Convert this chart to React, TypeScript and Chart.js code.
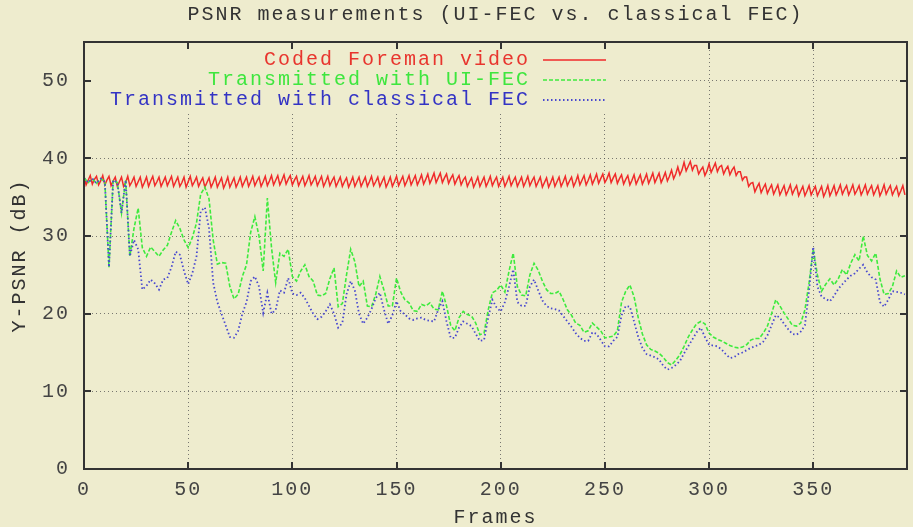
import React, { useEffect, useRef } from "react";
import { Chart, registerables } from "chart.js";

Chart.register(...registerables);

const TITLE = "PSNR measurements (UI-FEC vs. classical FEC)";
const X_LABEL = "Frames";
const Y_LABEL = "Y-PSNR (dB)";
const X_TICKS = [0, 50, 100, 150, 200, 250, 300, 350];
const Y_TICKS = [0, 10, 20, 30, 40, 50];
const X_MAX = 395;
const Y_MAX = 55;
const SERIES_NAMES = ["Coded Foreman video", "Transmitted with UI-FEC", "Transmitted with classical FEC"];
const LOSS_FRAME_STEP = 2; // transmitted series are read every 2nd frame

// Coded Foreman video, one value per frame (0..394)
const codedPsnr = [
  37.7, 36.6, 37.2, 37.8, 36.7, 37.3, 37.7, 36.6, 37.1, 37.8, 36.6, 37.2, 37.7, 36.5, 37.1,
  37.6, 36.4, 37.0, 37.6, 36.4, 36.9, 37.7, 36.5, 37.0, 37.6, 36.4, 37.0, 37.6, 36.3, 36.9,
  37.6, 36.4, 37.1, 37.7, 36.5, 37.0, 37.6, 36.4, 37.0, 37.6, 36.5, 37.1, 37.7, 36.4, 37.0,
  37.6, 36.4, 36.9, 37.6, 36.3, 37.0, 37.7, 36.5, 37.0, 37.6, 36.4, 37.0, 37.5, 36.3, 36.9,
  37.5, 36.3, 36.9, 37.6, 36.3, 36.9, 37.5, 36.2, 36.8, 37.6, 36.3, 36.9, 37.5, 36.3, 36.9,
  37.6, 36.4, 37.0, 37.6, 36.4, 37.0, 37.7, 36.5, 37.1, 37.6, 36.4, 37.0, 37.7, 36.5, 37.1,
  37.8, 36.6, 37.2, 37.8, 36.6, 37.2, 37.9, 36.7, 37.3, 37.8, 36.6, 37.2, 37.7, 36.5, 37.1,
  37.7, 36.5, 37.1, 37.8, 36.6, 37.1, 37.7, 36.5, 37.1, 37.7, 36.4, 37.0, 37.7, 36.5, 37.1,
  37.6, 36.4, 37.0, 37.6, 36.4, 37.0, 37.5, 36.3, 36.9, 37.6, 36.4, 37.0, 37.6, 36.4, 37.0,
  37.6, 36.4, 37.0, 37.7, 36.5, 37.0, 37.6, 36.4, 37.0, 37.6, 36.3, 36.9, 37.6, 36.4, 37.0,
  37.7, 36.5, 37.1, 37.7, 36.5, 37.1, 37.8, 36.6, 37.2, 37.8, 36.6, 37.2, 37.9, 36.7, 37.3,
  38.0, 36.8, 37.4, 38.1, 36.9, 37.5, 38.1, 36.9, 37.5, 38.0, 36.8, 37.4, 37.9, 36.7, 37.3,
  37.8, 36.6, 37.2, 37.6, 36.4, 37.0, 37.5, 36.3, 36.9, 37.6, 36.4, 37.0, 37.6, 36.4, 37.0,
  37.7, 36.5, 37.1, 37.6, 36.4, 37.0, 37.6, 36.4, 37.0, 37.7, 36.5, 37.1, 37.6, 36.4, 37.0,
  37.6, 36.4, 37.0, 37.7, 36.5, 37.1, 37.6, 36.4, 37.0, 37.6, 36.3, 36.9, 37.5, 36.3, 36.9,
  37.6, 36.4, 37.0, 37.6, 36.4, 37.0, 37.7, 36.5, 37.1, 37.6, 36.4, 37.0, 37.8, 36.6, 37.2,
  37.8, 36.6, 37.2, 37.9, 36.7, 37.3, 38.0, 36.8, 37.4, 38.0, 36.9, 37.4, 38.1, 36.9, 37.5,
  38.0, 36.8, 37.4, 37.9, 36.7, 37.3, 37.8, 36.6, 37.2, 37.9, 36.7, 37.3, 37.9, 36.7, 37.3,
  38.0, 36.8, 37.4, 38.1, 36.9, 37.5, 38.1, 36.9, 37.5, 38.2, 37.1, 37.7, 38.5, 37.4, 38.0,
  38.9, 37.9, 38.5, 39.5, 38.4, 39.0, 39.6, 38.5, 39.1, 39.1, 38.0, 38.5, 38.9, 37.8, 38.4,
  39.3, 38.2, 38.8, 39.4, 38.3, 38.9, 39.1, 38.0, 38.6, 39.0, 37.9, 38.5, 38.9, 37.8, 38.3,
  38.3, 37.2, 37.6, 37.6, 36.4, 36.8, 36.9, 35.7, 36.3, 36.8, 35.6, 36.2, 36.7, 35.5, 36.1,
  36.6, 35.4, 36.0, 36.6, 35.3, 35.9, 36.5, 35.3, 35.9, 36.6, 35.4, 36.0, 36.5, 35.2, 35.8,
  36.4, 35.2, 35.8, 36.5, 35.3, 35.9, 36.4, 35.2, 35.8, 36.4, 35.1, 35.7, 36.5, 35.2, 35.8,
  36.5, 35.3, 35.9, 36.6, 35.4, 36.0, 36.5, 35.3, 35.9, 36.6, 35.4, 35.9, 36.5, 35.3, 35.9,
  36.6, 35.4, 36.0, 36.5, 35.3, 35.9, 36.5, 35.2, 35.8, 36.6, 35.4, 36.0, 36.5, 35.3, 35.9,
  36.4, 35.2, 35.8, 36.5, 35.3,
];

// Transmitted with UI-FEC, frames 0, 2, 4, ... 394
const uiFecPsnr = [
  37.5, 36.9, 37.4, 36.8, 37.4, 37.0, 26.0, 37.2, 36.9, 33.0,
  37.2, 27.4, 31.0, 33.6, 28.5, 27.4, 28.6, 28.0, 27.4, 28.2,
  28.8, 30.5, 32.0, 31.0, 29.5, 28.5, 29.8, 31.7, 35.4, 36.3,
  34.8, 29.5, 26.4, 26.6, 26.5, 23.5, 21.9, 22.5, 24.8, 26.3,
  30.5, 32.5, 30.0, 25.5, 34.9, 28.5, 24.0, 27.8, 27.4, 28.3,
  24.8, 24.2, 25.5, 26.3, 24.8, 24.2, 22.4, 22.3, 22.6, 24.5,
  25.9, 20.9, 21.3, 25.0, 28.3, 26.7, 23.5, 24.2, 21.0, 20.9,
  22.5, 24.8, 23.0, 21.0, 21.0, 24.6, 22.8, 21.8, 21.4, 20.4,
  20.3, 21.2, 21.0, 21.4, 20.6, 20.5, 22.9, 21.0, 18.5, 17.8,
  19.5, 20.3, 19.9, 19.7, 18.8, 17.3, 17.5, 20.5, 22.7, 23.0,
  23.7, 22.8, 25.5, 27.8, 23.5, 22.4, 22.3, 25.0, 26.5, 25.6,
  24.2, 23.1, 22.6, 22.6, 22.9, 21.8, 20.5, 19.8, 18.8, 18.5,
  17.6, 17.8, 18.8, 18.3, 17.8, 16.9, 17.0, 17.1, 17.8, 21.5,
  22.9, 23.7, 22.2, 19.5, 17.4, 16.0, 15.4, 15.2, 14.9, 14.4,
  13.7, 13.4, 14.0, 14.7, 15.8, 17.0, 17.9, 18.7, 19.0, 18.7,
  17.5, 17.0, 16.7, 16.5, 16.2, 15.9, 15.7, 15.6, 15.7, 16.0,
  16.6, 16.8, 16.8, 17.5, 18.4, 20.0, 21.8, 21.0, 20.1, 19.3,
  18.5, 18.4, 18.8, 20.5, 24.0, 28.3, 25.0, 22.9, 23.8, 24.5,
  23.7, 24.5, 25.7, 25.0, 26.5, 27.6, 26.8, 30.0, 27.5, 26.8,
  27.8, 24.5, 22.5, 22.6, 23.5, 25.5, 24.7, 24.9,
];

// Transmitted with classical FEC, frames 0, 2, 4, ... 394
const classicalFecPsnr = [
  37.5, 36.9, 37.4, 36.8, 37.4, 37.0, 26.0, 37.2, 36.9, 33.0,
  37.2, 27.4, 29.5, 28.3, 23.1, 23.6, 24.4, 23.9, 23.1, 24.4,
  24.6, 26.0, 28.0, 27.6, 25.5, 23.8, 25.2, 27.4, 33.2, 33.7,
  31.0, 24.0, 21.5, 20.0, 18.5, 17.0, 16.9, 17.8, 20.0, 21.5,
  24.2, 24.8, 23.5, 20.1, 22.7, 20.0, 20.5, 23.0, 22.7, 24.6,
  22.6, 22.4, 22.7, 22.0, 21.0, 20.0, 19.3, 19.6, 20.3, 21.2,
  20.0, 18.2, 18.8, 22.5, 24.2, 23.0, 20.0, 18.7, 19.5, 20.6,
  22.0, 22.7, 20.5, 18.7, 19.8, 21.6, 20.3, 19.9, 19.4, 19.2,
  19.4, 19.5, 19.2, 19.1, 19.0, 20.5, 21.6, 19.0, 16.9, 16.9,
  18.2, 19.0, 18.7, 18.4, 17.4, 16.5, 16.6, 19.5, 21.8, 20.8,
  20.3, 21.5, 23.5, 25.7, 21.5, 21.0, 21.0, 23.5, 24.4, 23.0,
  21.7, 21.0, 20.7, 20.6, 20.4, 19.7, 19.0, 18.3, 17.5, 16.9,
  16.5, 16.5, 17.6, 17.4, 16.6, 15.8, 15.8, 16.5, 17.0, 19.8,
  21.0, 20.9, 19.0, 17.0, 15.6, 14.8, 14.6, 14.4, 14.1, 13.3,
  12.8, 13.0, 13.4, 13.9, 14.9, 15.8, 16.7, 17.6, 18.2, 17.0,
  16.0, 15.9, 15.8, 15.4, 14.8, 14.3, 14.4, 14.8, 15.0, 15.3,
  15.6, 15.8, 16.0, 16.4, 17.2, 18.5, 19.8, 19.5, 18.7, 18.0,
  17.4, 17.3, 17.7, 18.5, 23.0, 28.6, 23.5, 22.2, 21.9, 21.6,
  22.3, 23.2, 23.8, 24.4, 24.9, 25.2, 25.8, 26.3, 25.3, 24.7,
  24.4, 21.5, 20.9, 21.8, 22.9, 22.8, 22.7, 22.5,
];

const FONT = "'Liberation Mono', 'DejaVu Sans Mono', monospace";
const BG = "#eeecce";
const LINE_COLORS = ["#f02a2a", "#3eea3e", "#4848d0"];
const LEGEND_TEXT_COLORS = ["#e8352e", "#3ee63e", "#3434c4"];

export default function App() {
  const ref = useRef<HTMLCanvasElement | null>(null);

  useEffect(() => {
    document.body.style.margin = "0";
    document.body.style.background = BG;
    const canvas = ref.current;
    if (!canvas) return;

    const setSpacing = (chart: any) => {
      try {
        chart.ctx.letterSpacing = "2px";
      } catch (e) {}
    };

    const bgPlugin = {
      id: "bgPlugin",
      beforeUpdate: (chart: any) => setSpacing(chart),
      beforeDraw: (chart: any) => {
        setSpacing(chart);
        const c = chart.ctx;
        c.save();
        c.fillStyle = BG;
        c.fillRect(0, 0, chart.width, chart.height);
        c.restore();
      },
    };

    const legendPlugin = {
      id: "keyPlugin",
      beforeDatasetsDraw: (chart: any) => {
        const c = chart.ctx;
        const { left, top } = chart.chartArea;
        c.save();
        c.fillStyle = BG;
        c.fillRect(left + 1, top + 1, 532, 68);
        c.font = `20px ${FONT}`;
        c.textAlign = "right";
        c.textBaseline = "middle";
        chart.data.datasets.forEach((ds: any, i: number) => {
          const y = top + 18 + i * 20;
          c.fillStyle = LEGEND_TEXT_COLORS[i];
          c.fillText(ds.label, left + 446, y);
          c.strokeStyle = ds.borderColor;
          c.lineWidth = ds.borderWidth;
          c.setLineDash(ds.borderDash || []);
          c.beginPath();
          c.moveTo(left + 459, y);
          c.lineTo(left + 522, y);
          c.stroke();
        });
        c.restore();
      },
    };

    const framePlugin = {
      id: "framePlugin",
      afterDatasetsDraw: (chart: any) => {
        const c = chart.ctx;
        const { left, right, top, bottom } = chart.chartArea;
        const xs = chart.scales.x;
        const ys = chart.scales.y;
        c.save();
        c.setLineDash([]);
        c.strokeStyle = "#333333";
        c.lineWidth = 2;
        c.beginPath();
        X_TICKS.forEach((v) => {
          if (v === 0) return;
          const px = Math.round(xs.getPixelForValue(v));
          c.moveTo(px, bottom);
          c.lineTo(px, bottom - 7);
          c.moveTo(px, top);
          c.lineTo(px, top + 7);
        });
        Y_TICKS.forEach((v) => {
          if (v === 0) return;
          const py = Math.round(ys.getPixelForValue(v));
          c.moveTo(left, py);
          c.lineTo(left + 7, py);
          c.moveTo(right, py);
          c.lineTo(right - 7, py);
        });
        c.stroke();
        c.strokeRect(left, top, right - left, bottom - top);
        c.restore();
      },
    };

    const axisFont = { family: FONT, size: 20, weight: "normal" as const };

    const chart = new Chart(canvas, {
      type: "line",
      data: {
        datasets: [
          {
            label: SERIES_NAMES[0],
            data: codedPsnr.map((v, i) => ({ x: i, y: v })),
            borderColor: LINE_COLORS[0],
            borderWidth: 1.5,
            pointRadius: 0,
            tension: 0,
            order: 2,
          },
          {
            label: SERIES_NAMES[1],
            data: uiFecPsnr.map((v, i) => ({ x: i * LOSS_FRAME_STEP, y: v })),
            borderColor: LINE_COLORS[1],
            borderWidth: 1.6,
            borderDash: [4, 2],
            pointRadius: 0,
            tension: 0,
            order: 1,
          },
          {
            label: SERIES_NAMES[2],
            data: classicalFecPsnr.map((v, i) => ({ x: i * LOSS_FRAME_STEP, y: v })),
            borderColor: LINE_COLORS[2],
            borderWidth: 1.8,
            borderDash: [1.5, 2.5],
            pointRadius: 0,
            tension: 0,
            order: 0,
          },
        ],
      },
      options: {
        responsive: false,
        maintainAspectRatio: false,
        animation: false,
        events: [],
        layout: { padding: { left: 0, right: 6, top: 0, bottom: 0 } },
        plugins: {
          legend: { display: false },
          tooltip: { enabled: false },
          title: {
            display: true,
            fullSize: false,
            text: TITLE,
            color: "#333333",
            font: axisFont,
            padding: { top: 3, bottom: 15 },
          },
        },
        scales: {
          x: {
            type: "linear",
            min: 0,
            max: X_MAX,
            afterBuildTicks: (s: any) => {
              s.ticks = X_TICKS.map((v) => ({ value: v }));
            },
            afterFit: (s: any) => {
              s.height = 58;
            },
            grid: { color: "rgba(80,80,80,0.75)", lineWidth: 1, drawTicks: false },
            border: { display: false, dash: [1, 3] },
            ticks: {
              padding: 9,
              color: "#444444",
              font: axisFont,
              maxRotation: 0,
              autoSkip: false,
            },
            title: {
              display: true,
              text: X_LABEL,
              color: "#333333",
              font: axisFont,
              padding: { top: 0, bottom: -3 },
            },
          },
          y: {
            type: "linear",
            min: 0,
            max: Y_MAX,
            afterBuildTicks: (s: any) => {
              s.ticks = Y_TICKS.map((v) => ({ value: v }));
            },
            afterFit: (s: any) => {
              s.width = 84;
            },
            grid: { color: "rgba(80,80,80,0.75)", lineWidth: 1, drawTicks: false },
            border: { display: false, dash: [1, 3] },
            ticks: {
              padding: 14,
              color: "#444444",
              font: axisFont,
            },
            title: {
              display: true,
              text: Y_LABEL,
              color: "#333333",
              font: axisFont,
              padding: { top: 8, bottom: 0 },
            },
          },
        },
      },
      plugins: [bgPlugin, legendPlugin, framePlugin],
    } as any);

    return () => chart.destroy();
  }, []);

  return (
    <div style={{ width: 913, height: 527 }}>
      <canvas ref={ref} width={913} height={527} style={{ display: "block", width: 913, height: 527 }} />
    </div>
  );
}
